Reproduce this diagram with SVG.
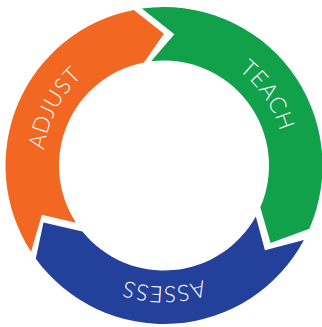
<svg xmlns="http://www.w3.org/2000/svg" width="322" height="327" viewBox="0 0 322 327">
<style>
.lbl{fill:#ffffff;font-family:Lato,"Liberation Sans",sans-serif;font-weight:300;font-size:22.5px;letter-spacing:0.6px}
</style>
<defs>
<path id="pAdjust" d="M74.79,247.25 A121,121 0 0 1 179.79,45.54" fill="none"/>
<path id="pTeach" d="M134.73,48.09 A121,121 0 0 1 261.89,236.62" fill="none"/>
<path id="pAssess" d="M277.70,206.88 A121,121 0 0 1 50.30,206.88" fill="none"/>
</defs>
<rect width="322" height="327" fill="#ffffff"/>
<g id="connectors"></g>
<g id="adjust">
<path fill="#F26722" d="M31.07,251.82 A158.5,158.5 0 0 1 133.76,9.91 L164,33.75 L143.96,62.43 A105,105 0 0 0 75.94,222.68 L41.84,214.85 Z"/>
<text class="lbl"><textPath href="#pAdjust" startOffset="50%" text-anchor="middle">ADJUST</textPath></text>
</g>
<g id="teach">
<path fill="#12A14B" d="M141.94,8.54 A158.5,158.5 0 0 1 309.35,228.70 L270.59,242.94 L260.29,207.37 A105,105 0 0 0 151.20,61.28 L174.34,34.16 Z"/>
<text class="lbl"><textPath href="#pTeach" startOffset="50%" text-anchor="middle">TEACH</textPath></text>
</g>
<g id="assess">
<path fill="#23409A" d="M303.95,239.91 A158.5,158.5 0 0 1 35.77,258.67 L43.5,222.5 L82.40,231.58 A105,105 0 0 0 255.84,216.41 L264.93,250.19 Z"/>
<text class="lbl"><textPath href="#pAssess" startOffset="50%" text-anchor="middle">ASSESS</textPath></text>
</g>
</svg>
